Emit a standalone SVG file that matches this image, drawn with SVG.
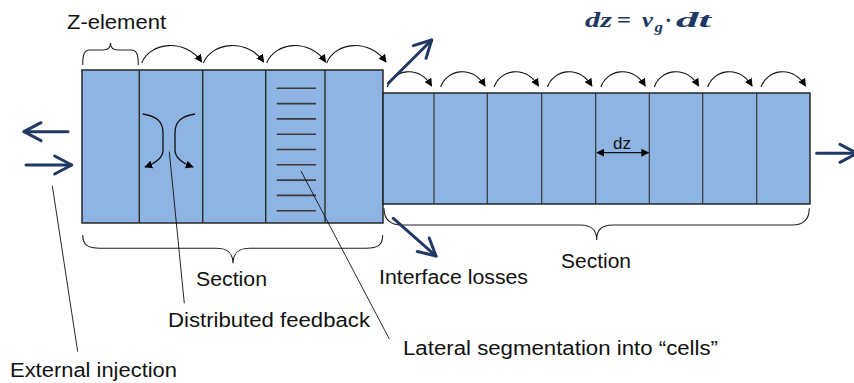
<svg xmlns="http://www.w3.org/2000/svg" width="854" height="383" viewBox="0 0 854 383">
  <style>
    .block { fill: #8EB4E3; stroke: #1a1a1a; stroke-width: 1.4; }
    .div { stroke: #2b2b2b; stroke-width: 1.4; }
    .divr { stroke: #2b2b2b; stroke-width: 1.1; }
    .cell { stroke: #3a3a3a; stroke-width: 1.6; }
    .hop { fill: none; stroke: #111; stroke-width: 1.1; marker-end: url(#tri); }
    .fb { fill: none; stroke: #111; stroke-width: 1.3; marker-end: url(#tri); }
    .brace { fill: none; stroke: #222; stroke-width: 1.1; }
    .lead { fill: none; stroke: #111; stroke-width: 0.9; }
    .flow { fill: none; stroke: #1F3864; stroke-width: 3; stroke-linecap: round; marker-end: url(#vhead); }
    .lbl { font-family: "Liberation Sans", Arial, sans-serif; font-size: 20px; fill: #111; }
    .eq { font-family: "Liberation Serif", "DejaVu Serif", serif; font-weight: bold; font-style: italic; fill: #1F3864; font-size: 20px; }
    .eq.up { font-style: normal; }
    .eq.sub { font-size: 14px; }
  </style>
  <defs>
    <marker id="tri" viewBox="0 0 10 10" refX="9" refY="5" markerWidth="8" markerHeight="8" markerUnits="userSpaceOnUse" orient="auto-start-reverse">
      <path d="M0,0 L10,5 L0,10 z" fill="#000"/>
    </marker>
    <marker id="vhead" viewBox="-21 -12 25 24" refX="0" refY="0" markerWidth="25" markerHeight="24" markerUnits="userSpaceOnUse" orient="auto">
      <path d="M-17,-9 L0,0 L-17,9" fill="none" stroke="#1F3864" stroke-width="3" stroke-linecap="round" stroke-linejoin="round"/>
    </marker>
  </defs>

  <rect width="854" height="383" fill="#fff"/>

  <!-- first section: five Z-elements -->
  <g id="section-left">
    <rect class="block" x="82" y="70" width="301" height="153"/>
    <line class="div" x1="139.3" y1="70" x2="139.3" y2="223"/>
    <line class="div" x1="202.7" y1="70" x2="202.7" y2="223"/>
    <line class="div" x1="265.7" y1="70" x2="265.7" y2="223"/>
    <line class="div" x1="325" y1="70" x2="325" y2="223"/>
  </g>

  <!-- lateral cells inside the fourth element -->
  <g id="lateral-cells">
    <line class="cell" x1="276.7" y1="88.3" x2="316" y2="88.3"/>
    <line class="cell" x1="276.7" y1="103.6" x2="316" y2="103.6"/>
    <line class="cell" x1="276.7" y1="118.9" x2="316" y2="118.9"/>
    <line class="cell" x1="276.7" y1="134.2" x2="316" y2="134.2"/>
    <line class="cell" x1="276.7" y1="149.5" x2="316" y2="149.5"/>
    <line class="cell" x1="276.7" y1="164.8" x2="316" y2="164.8"/>
    <line class="cell" x1="276.7" y1="180.1" x2="316" y2="180.1"/>
    <line class="cell" x1="276.7" y1="195.4" x2="316" y2="195.4"/>
    <line class="cell" x1="276.7" y1="210.7" x2="316" y2="210.7"/>
  </g>

  <!-- second section: eight Z-elements -->
  <g id="section-right">
    <rect class="block" x="383" y="93" width="427" height="111"/>
    <line class="divr" x1="434" y1="93" x2="434" y2="204"/>
    <line class="divr" x1="487.3" y1="93" x2="487.3" y2="204"/>
    <line class="divr" x1="541.7" y1="93" x2="541.7" y2="204"/>
    <line class="divr" x1="595.7" y1="93" x2="595.7" y2="204"/>
    <line class="divr" x1="649.3" y1="93" x2="649.3" y2="204"/>
    <line class="divr" x1="702.7" y1="93" x2="702.7" y2="204"/>
    <line class="divr" x1="756.7" y1="93" x2="756.7" y2="204"/>
  </g>

  <!-- braces -->
  <g id="braces">
    <path class="brace" d="M82.7,65 C82.7,55 84,50 90,50 L103,50 C108,50 110.5,48 110.5,43 C110.5,48 113,50 118,50 L131,50 C137,50 138.3,55 138.3,65"/>
    <path class="brace" d="M82.7,235 C82.7,245 88,248.3 100,248.3 L216,248.3 C228,248.3 233,253 233,263.3 C233,253 238,248.3 250,248.3 L366,248.3 C378,248.3 382.7,245 382.7,235"/>
    <path class="brace" d="M384,208.3 C384,219 390,225 402,225 L580,225 C592,225 596.7,230 596.7,240 C596.7,230 601,225 613,225 L792,225 C804,225 809.3,219 809.3,208.3"/>
  </g>

  <g id="connectors">
    <!-- hops between elements of the first section -->
    <path class="hop" d="M141.7,63 C150,42 185,38 201.7,62"/>
    <path class="hop" d="M203.3,63 C212,42 247,38 263.7,62"/>
    <path class="hop" d="M266.7,63 C275,42 309,38 325.7,62"/>
    <path class="hop" d="M326.7,63 C335,42 369,38 386,62"/>

    <!-- hops between elements of the second section -->
    <path class="hop" d="M387.3,87 C393,70 418,64 431.7,86"/>
    <path class="hop" d="M440.7,87 C446.4,70 471.4,64 485.1,86"/>
    <path class="hop" d="M494.1,87 C499.8,70 524.8,64 538.5,86"/>
    <path class="hop" d="M547.5,87 C553.2,70 578.2,64 591.9,86"/>
    <path class="hop" d="M600.9,87 C606.6,70 631.6,64 645.3,86"/>
    <path class="hop" d="M654.3,87 C660,70 685,64 698.7,86"/>
    <path class="hop" d="M707.7,87 C713.4,70 738.4,64 752.1,86"/>
    <path class="hop" d="M761.1,87 C766.8,70 791.8,64 805.5,86"/>

    <!-- distributed feedback inside the second element -->
    <path class="fb" d="M142.7,114 C156,116 163,121 163,133 L163,150 C163,158 156,163 145,167"/>
    <path class="fb" d="M195,114 C182,116 175,121 175,133 L175,150 C175,158 182,163 193,167"/>

    <!-- element length dz -->
    <line x1="597" y1="152.7" x2="648.5" y2="152.7" stroke="#111" stroke-width="1.2" marker-start="url(#tri)" marker-end="url(#tri)"/>

    <!-- optical flows -->
    <line class="flow" x1="68" y1="131.7" x2="24" y2="131.7"/>
    <line class="flow" x1="26" y1="165" x2="71.7" y2="165"/>
    <line class="flow" x1="388.3" y1="83.3" x2="431.7" y2="40"/>
    <line class="flow" x1="393.3" y1="218.3" x2="436" y2="256"/>
    <line class="flow" x1="816.7" y1="153.3" x2="857" y2="153.3"/>

    <!-- leader lines -->
    <line class="lead" x1="52.3" y1="185.7" x2="77.7" y2="351.7"/>
    <line class="lead" x1="169.3" y1="151.7" x2="184.3" y2="303.3"/>
    <line class="lead" x1="301" y1="171" x2="389.3" y2="339"/>
  </g>

  <!-- labels -->
  <g id="labels">
    <text class="lbl" x="67" y="29" textLength="99" lengthAdjust="spacingAndGlyphs">Z-element</text>
    <text class="lbl" x="196" y="286" textLength="71" lengthAdjust="spacingAndGlyphs">Section</text>
    <text class="lbl" x="561" y="268.3" textLength="70" lengthAdjust="spacingAndGlyphs">Section</text>
    <text class="lbl" x="168" y="327" textLength="202" lengthAdjust="spacingAndGlyphs">Distributed feedback</text>
    <text class="lbl" x="10" y="377" textLength="167" lengthAdjust="spacingAndGlyphs">External injection</text>
    <text class="lbl" x="379" y="284" textLength="149" lengthAdjust="spacingAndGlyphs">Interface losses</text>
    <text class="lbl" x="403" y="355" textLength="315" lengthAdjust="spacingAndGlyphs">Lateral segmentation into “cells”</text>
    <text class="lbl" x="613" y="149" style="font-size:16px" textLength="18" lengthAdjust="spacingAndGlyphs">dz</text>
  </g>

  <!-- dz = v_g · dt -->
  <g id="equation">
    <text class="eq" x="585" y="27" textLength="27" lengthAdjust="spacingAndGlyphs">dz</text>
    <text class="eq up" x="617" y="27" textLength="14" lengthAdjust="spacingAndGlyphs">=</text>
    <text class="eq" x="642" y="27" textLength="11" lengthAdjust="spacingAndGlyphs">v</text>
    <text class="eq sub" x="654.5" y="31.5" textLength="8.5" lengthAdjust="spacingAndGlyphs">g</text>
    <text class="eq up" x="665" y="27">·</text>
    <text class="eq" x="676" y="27" textLength="35" lengthAdjust="spacingAndGlyphs">dt</text>
  </g>
</svg>
